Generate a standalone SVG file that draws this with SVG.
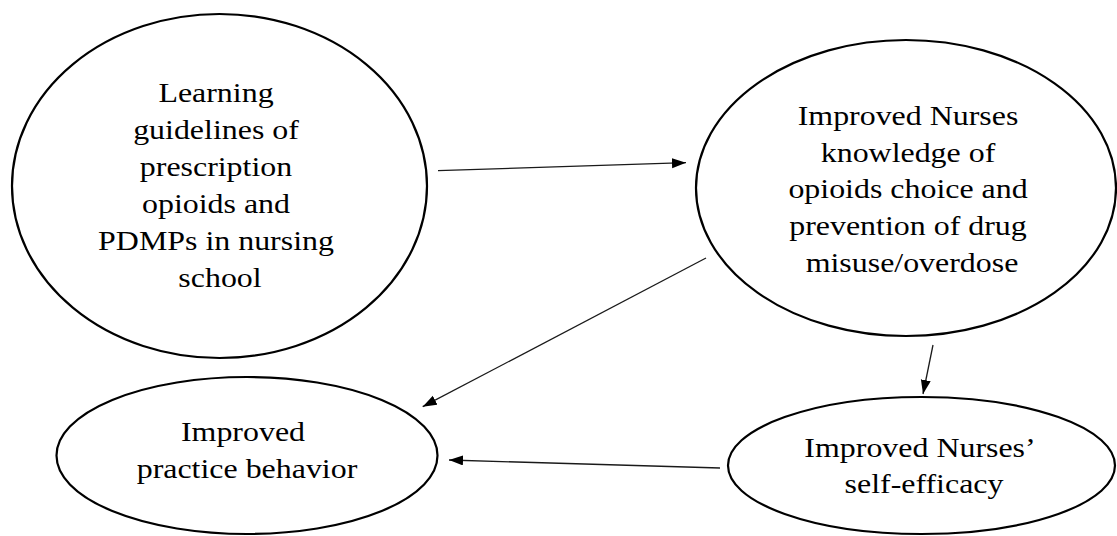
<svg xmlns="http://www.w3.org/2000/svg" width="1117" height="536" viewBox="0 0 1117 536">
  <style>
    .node { fill: #ffffff; stroke: #000000; stroke-width: 2.2; }
    .lbl { font-family: "Liberation Serif", "Times New Roman", serif; font-size: 28px; fill: #000000; text-anchor: middle; }
    .edge { stroke: #1a1a1a; stroke-width: 1.3; fill: none; marker-end: url(#arrow); }
  </style>
  <defs>
    <marker id="arrow" markerUnits="userSpaceOnUse" markerWidth="15" markerHeight="11" refX="14" refY="5" orient="auto">
      <path d="M0,0 L14,5 L0,10 Z" fill="#000000"/>
    </marker>
  </defs>
  <rect width="1117" height="536" fill="#ffffff"/>

  <g id="node-learning">
    <ellipse class="node" cx="219.5" cy="186" rx="207.5" ry="172"/>
    <text class="lbl" transform="translate(220,0) scale(1.14,1)">
      <tspan x="0" y="102">Learning</tspan>
      <tspan x="0" y="139">guidelines of</tspan>
      <tspan x="0" y="176">prescription</tspan>
      <tspan x="0" y="213">opioids and</tspan>
      <tspan x="0" y="250">PDMPs in nursing</tspan>
      <tspan x="0" y="287">school</tspan>
    </text>
  </g>

  <g id="node-knowledge">
    <ellipse class="node" cx="906" cy="188" rx="210" ry="148"/>
    <text class="lbl" transform="translate(912,0) scale(1.14,1)">
      <tspan x="0" y="125">Improved Nurses</tspan>
      <tspan x="0" y="162">knowledge of</tspan>
      <tspan x="0" y="198">opioids choice and</tspan>
      <tspan x="0" y="235">prevention of drug</tspan>
      <tspan x="0" y="272">misuse/overdose</tspan>
    </text>
  </g>

  <g id="node-practice">
    <ellipse class="node" cx="247" cy="455.5" rx="190.5" ry="78.5"/>
    <text class="lbl" transform="translate(247,0) scale(1.14,1)">
      <tspan x="0" y="441">Improved</tspan>
      <tspan x="0" y="478">practice behavior</tspan>
    </text>
  </g>

  <g id="node-selfefficacy">
    <ellipse class="node" cx="921.5" cy="465.5" rx="193.5" ry="68.5"/>
    <text class="lbl" transform="translate(924,0) scale(1.14,1)">
      <tspan x="0" y="457">Improved Nurses’</tspan>
      <tspan x="0" y="493">self-efficacy</tspan>
    </text>
  </g>

  <g id="connectors">
    <line class="edge" x1="438" y1="170.7" x2="686" y2="162.7"/>
    <line class="edge" x1="706" y1="258" x2="422.7" y2="406.7"/>
    <line class="edge" x1="933" y1="345" x2="923" y2="394"/>
    <line class="edge" x1="720" y1="468" x2="449" y2="460"/>
  </g>
</svg>
